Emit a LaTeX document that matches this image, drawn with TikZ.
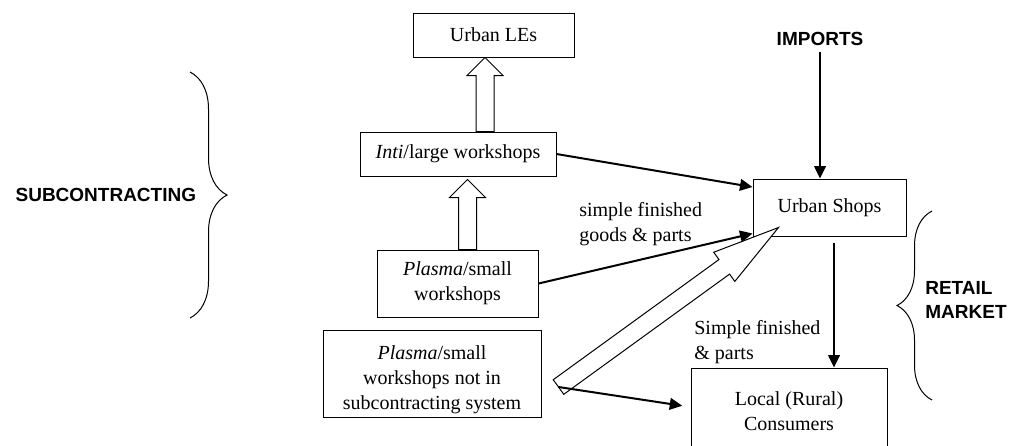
\documentclass[tikz,border=0pt]{standalone}
\usepackage{fontspec}
\setmainfont{Liberation Serif}
\newfontfamily\headfont{Liberation Sans}
\usetikzlibrary{arrows.meta,positioning,calc,decorations.pathreplacing}

\tikzset{box/.style={draw, line width=0.6pt, inner sep=0pt, align=center},
  flow/.style={line width=1.2pt, -{Triangle[length=7.5pt,width=7pt]}},
  tag/.style={font=\headfont\bfseries\fontsize{11.4pt}{14.5pt}\selectfont, align=left},
  curly/.style={decorate, decoration={brace, amplitude=#1}, line width=0.6pt}}

% hollow block arrow: tail, tip, head length
\newcommand{\blockarrow}[3]{%
  \coordinate (bh) at ($(#2)!#3!(#1)$);
  \draw[line width=0.6pt, fill=white]
    ($(#1)!5.4pt!90:(#2)$) -- ($(bh)!5.4pt!90:(#2)$) -- ($(bh)!10.8pt!90:(#2)$) -- (#2)
    -- ($(bh)!10.8pt!-90:(#2)$) -- ($(bh)!5.4pt!-90:(#2)$) -- ($(#1)!5.4pt!-90:(#2)$) -- cycle;}

\begin{document}
\begin{tikzpicture}[x=0.6pt, y=-0.6pt, font=\fontsize{12pt}{15pt}\selectfont]
\useasboundingbox (0,0) rectangle (1010,445);
% boxes
\node[box, minimum width=96.6pt, minimum height=26.4pt] (les) at (493.5,35) {Urban LEs};
\node[box, minimum width=117.6pt, minimum height=26.4pt] (inti) at (458,154) {\textit{Inti}/large workshops};
\node[box, minimum width=96.6pt, minimum height=40.2pt] (plasma) at (457.5,283.5) {\textit{Plasma}/small\\workshops};
\node[box, minimum width=130.8pt, minimum height=52.2pt] (plasmano) at (432,373.5) {\rule{0pt}{16pt}\textit{Plasma}/small\\workshops not in\\subcontracting system};
\node[box, minimum width=91.8pt, minimum height=34.2pt] (shops) at (829.5,207.5) {Urban Shops};
\node[box, minimum width=117.6pt, minimum height=52.2pt] (local) at (789,411.5) {Local (Rural)\\Consumers};
% labels
\node[tag, anchor=east] (sub) at (202,195) {SUBCONTRACTING};
\node[tag] (imports) at (820,39) {IMPORTS};
\node[tag, anchor=west, inner xsep=0pt] (retail) at (925,300) {RETAIL\\MARKET};
\node[align=left, anchor=west, inner xsep=0pt] (goods) at (579,224) {simple finished\\goods \& parts};
\node[align=left, anchor=west, inner xsep=0pt] (parts) at (694,342) {Simple finished\\\& parts};
% braces
\draw[curly=22.2pt] (190,72) -- (190,318);
\draw[curly=21pt] (932,400) -- (932,211);
% hollow arrows
\coordinate (inti-up) at ($(inti.north)+(27,0)$); \coordinate (les-in) at (inti-up |- les.south);
\coordinate (plasma-up) at ($(plasma.north)+(10,0)$); \coordinate (inti-in) at ($(plasma-up |- inti.south)+(0,3)$);
\coordinate (tail) at ($(plasmano.east)+(17,13.5)$); \coordinate (tip) at ($(shops.south west)+(26,-9)$);
\blockarrow{inti-up}{les-in}{10.8pt}
\blockarrow{plasma-up}{inti-in}{10.8pt}
\blockarrow{tail}{tip}{40.2pt}
% flows
\draw[flow] (inti.east) -- ([yshift=12.3pt]shops.west);
\draw[flow] (plasma.east) -- ([yshift=1.8pt]shops.south west);
\draw[flow] (imports.south) -- (imports.south |- shops.north);
\draw[flow, shorten <=3.6pt] ([xshift=2.7pt]shops.south) -- ([xshift=2.7pt]shops.south |- local.north);
\draw[flow, shorten >=5pt] (tail) -- ([yshift=2.7pt]local.west);
\end{tikzpicture}
\end{document}
